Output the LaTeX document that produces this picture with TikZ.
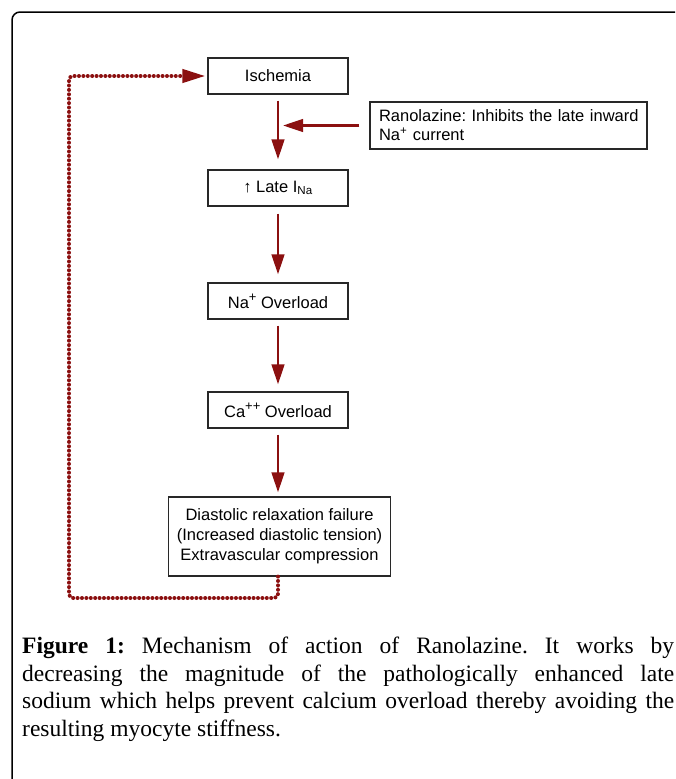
\documentclass[tikz,border=0pt]{standalone}
\usepackage{fontspec}
\setmainfont{Liberation Serif}
\newfontfamily\arialf{Liberation Sans}
\usetikzlibrary{arrows.meta}
\definecolor{dred}{RGB}{139,16,16}
\definecolor{boxline}{RGB}{40,40,40}
\newcommand{\bigsup}[1]{\raisebox{0.42em}{\fontsize{13}{13}\selectfont #1}}
\frenchspacing
\begin{document}
\begin{tikzpicture}[x=1pt,y=-1pt,
  stepbox/.style={draw=boxline, line width=1.1pt, minimum width=140pt, minimum height=36pt, inner sep=0pt, font=\arialf\fontsize{16.5}{20}\selectfont, align=center},
  arr/.style={draw=dred, line width=2.6pt, -{Triangle[length=20pt,width=12.5pt]}},
  loopline/.style={draw=dred, line width=4pt, dash pattern=on 0pt off 4.4pt, line cap=round, rounded corners=4pt},
  capline/.style={anchor=base west, inner sep=0pt, font=\fontsize{23.5}{28}\selectfont}]
\useasboundingbox (0,0) rectangle (675,779);
\draw[line width=1.5pt, rounded corners=8pt] (12,779) -- (12,12) -- (675,12);

\node[stepbox] (isch) at (278,76) {Ischemia};
\node[stepbox] (late) at (278,188) {{\char"2191}~Late I\textsubscript{Na}};
\node[stepbox] (na) at (278,301) {Na\bigsup{+} Overload};
\node[stepbox] (ca) at (278,410) {Ca\bigsup{++} Overload};
\node[stepbox, minimum width=222pt, minimum height=79pt] (dia) at (279.5,536.5) {Diastolic relaxation failure\\(Increased diastolic tension)\\Extravascular compression};
\node[draw=boxline, line width=1.1pt, text width=266pt, inner xsep=5.5pt, inner ysep=0pt, minimum height=47pt, align=left, font=\arialf\fontsize{16.5}{19}\selectfont] (ran) at (508.5,125.5) {\hspace*{3.5pt}Ranolazine: Inhibits the late inward\\\hspace*{3.5pt}Na\textsuperscript{+} current};

\draw[arr, shorten <=6pt, shorten >=10pt] (isch) -- (late);
\draw[arr, shorten <=7pt, shorten >=8pt] (late) -- (na);
\draw[arr, shorten <=6pt, shorten >=7pt] (na) -- (ca);
\draw[arr, shorten <=6pt, shorten >=4pt] (ca.south) -- (ca.south |- dia.north);
\coordinate (hit) at (ran.west -| isch.south);
\draw[arr, shorten <=10pt, shorten >=5pt] (ran.west) -- (hit);

\coordinate (lb) at (69,598);
\coordinate (lt) at (69,76);
\draw[loopline, -{Triangle[length=23pt,width=13pt]}, shorten >=2pt] (dia.south -| ca.south) |- (lb) -- (lt) -- (isch.west);

\node[capline] (c1) at (22,653) {\makebox[652pt][s]{\textbf{Figure 1:} Mechanism of action of Ranolazine. It works by}};
\node[capline] (c2) at (22,681) {\makebox[652pt][s]{decreasing the magnitude of the pathologically enhanced late}};
\node[capline] (c3) at (22,708.5) {\makebox[652pt][s]{sodium which helps prevent calcium overload thereby avoiding the}};
\node[capline] (c4) at (22,736) {resulting myocyte stiffness.};
\end{tikzpicture}
\end{document}
